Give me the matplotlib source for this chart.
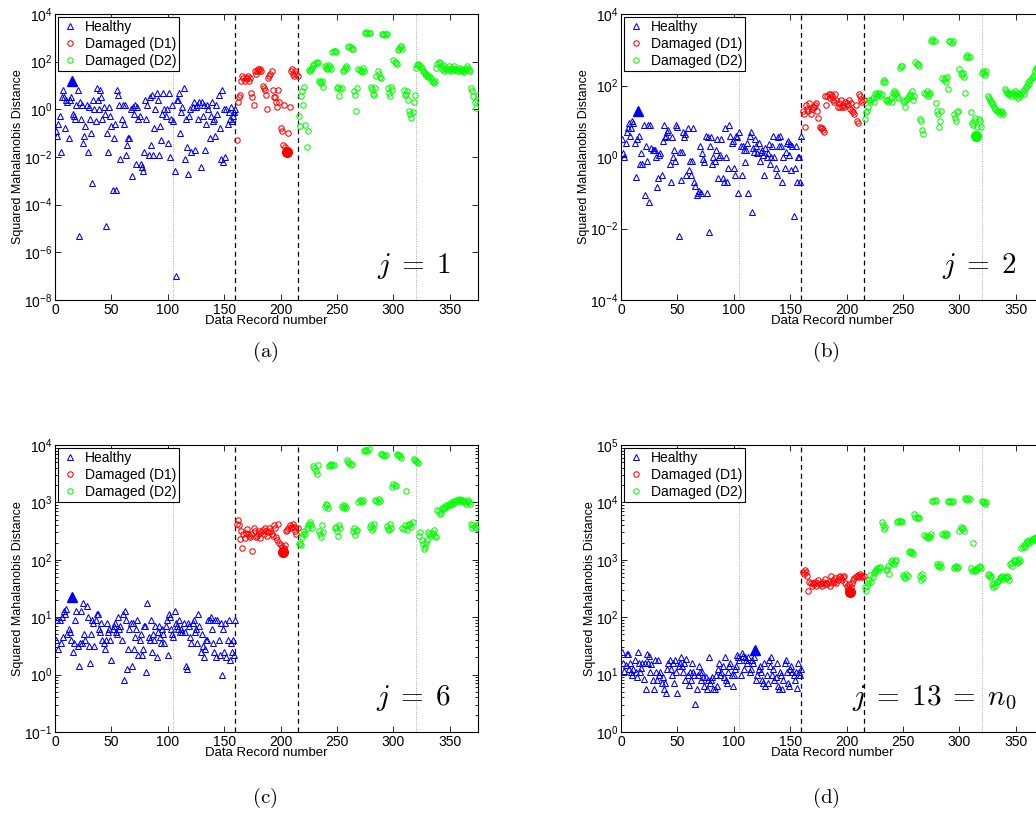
import numpy as np
import matplotlib
matplotlib.use("Agg")
import matplotlib.pyplot as plt
from matplotlib.ticker import FixedLocator, LogFormatterMathtext, LogLocator, NullLocator

plt.rcParams["font.family"] = ["Liberation Sans", "DejaVu Sans"]
plt.rcParams["mathtext.fontset"] = "cm"

# all values are log10 of the squared Mahalanobis distance
# record numbers: healthy 1-160, D1 161-215, D2 216-375

# ---- (a) j = 1
HEALTHY_A = [
    -0.9, -1.1, -0.6, -0.3, -1.8, 0.5, 0.8, 0.5, -0.8, 0.4,
    0.3, -1.2, 0.4, 0.5, 1.2, -0.2, -0.3, -0.4, 0.2, 0.8,
    -5.3, 0.3, -0.4, 0.2, -1.4, -1.1, -0.7, 0.2, -1.8, 0.1,
    -0.4, -1.0, -3.1, 0.4, 0.0, -0.5, 0.9, 0.4, 0.0, 0.8,
    0.5, -0.4, 0.1, -0.2, -4.9, -1.0, -1.8, 0.1, -0.3, -0.7,
    -3.4, -1.2, -0.6, -3.4, 0.8, 0.6, 0.2, -2.1, -0.4, 0.2,
    -0.6, 0.2, -1.9, -1.5, -1.2, -1.2, 0.0, -2.8, 0.1, -0.2,
    0.2, -2.3, 0.1, -0.4, -0.3, -2.3, -2.4, -2.6, -1.8, 0.4,
    -0.4, 0.2, -1.9, 0.5, -1.5, 0.6, -1.9, -0.8, 0.0, 0.7,
    0.4, -1.9, -0.7, -1.3, -0.2, 0.7, 0.0, -0.3, 0.0, -1.4,
    0.7, -2.0, -0.4, 0.2, -0.5, -2.6, -7.0, 0.4, 0.4, 0.7,
    -1.0, -0.1, 0.1, 0.9, -2.1, -0.4, -1.6, -2.7, -0.3, 0.0,
    -1.8, 0.1, 0.3, -1.7, 0.1, 0.2, -0.4, 0.3, -2.4, 0.3,
    -0.3, 0.2, -1.7, -0.6, 0.2, 0.0, -1.2, -0.3, 0.3, -0.5,
    -0.4, -1.1, 0.2, -0.2, 0.6, -0.8, -2.1, 0.8, -2.2, 0.0,
    -2.0, 0.0, -0.6, -0.1, -0.4, 0.1, -0.5, -0.3, -0.1, 0.0,
]
D1_A = [
    -1.3, 0.3, 0.5, 0.6, 1.2, 1.4, 1.3, 1.2, 1.3, 1.3,
    1.4, 1.2, 1.3, 0.7, 0.5, 0.2, 1.6, 1.5, 1.6, 1.7,
    1.6, 1.7, 1.6, 1.0, 0.9, 0.8, 0.6, 0.0, 1.3, 1.4,
    1.5, 1.6, 0.8, 0.5, 0.5, 0.3, 0.1, 0.8, 0.3, -0.8,
    -0.9, -1.5, 0.2, -1.6, -1.7, -1.8, -1.0, 0.1, 1.6, 1.7,
    1.5, 1.4, 1.6, 1.5, 1.4,
]
D2_A = [
    -0.3, -0.7, 0.55, 0.75, 0.2, 0.95, -0.65, -1.6, -0.9, 1.65,
    1.6, 1.7, 1.75, 1.85, 1.9, 1.95, 2.0, 1.95, 1.2, 1.15,
    1.1, 1.2, 0.95, 1.8, 1.75, 1.7, 1.85, 1.75, 1.8, 1.7,
    2.4, 2.45, 2.45, 2.4, 0.9, 0.95, 0.55, 0.85, 0.9, 1.6,
    1.65, 1.75, 1.8, 1.75, 2.6, 2.65, 2.6, 2.55, 2.55, 0.75,
    0.6, -0.05, 0.9, 1.7, 1.65, 1.6, 1.55, 1.75, 1.6, 3.2,
    3.25, 3.2, 3.2, 3.2, 0.95, 0.85, 0.65, 0.6, 0.9, 1.4,
    1.6, 1.5, 1.35, 1.3, 3.15, 3.15, 3.1, 3.15, 3.15, 0.9,
    0.7, 0.55, 0.95, 0.8, 2.05, 2.0, 1.95, 1.9, 2.5, 2.55,
    2.6, 2.65, 2.55, 0.8, 0.6, 0.65, 0.75, 0.4, -0.05, -0.2,
    -0.35, -0.1, 0.3, 0.6, 1.75, 1.85, 1.9, 1.85, 1.8, 1.75,
    1.6, 1.55, 1.5, 1.5, 1.4, 1.35, 1.4, 1.3, 1.2, 1.15,
    1.1, 1.2, 1.75, 1.9, 2.0, 1.95, 1.8, 1.7, 1.85, 1.6,
    1.7, 1.75, 1.65, 1.8, 1.7, 1.6, 1.75, 1.65, 1.8, 1.7,
    1.6, 1.65, 1.75, 1.6, 1.7, 1.65, 1.6, 1.55, 1.7, 1.8,
    1.75, 1.65, 1.6, 0.9, 0.75, 0.55, 0.3, 0.05, 0.4, 0.6,
]

# ---- (b) j = 2
HEALTHY_B = [
    0.5, 0.1, 0.0, 0.4, 0.7, 0.8, 0.95, 0.6, 0.8, 1.0,
    0.95, 0.4, -0.55, 0.5, 1.3, 0.6, -0.2, 0.1, -0.2, 0.9,
    -1.05, 0.3, -0.1, 0.9, -1.25, 0.9, 0.25, 0.2, 0.2, 0.2,
    0.0, -0.85, -0.6, 0.05, 0.1, -0.5, 0.45, 0.9, 0.55, 0.6,
    0.7, 0.75, -0.2, -0.7, 0.55, 0.0, 0.2, -0.1, 0.9, 0.85,
    -2.2, 0.15, -0.65, 0.15, 0.7, 0.55, 0.65, -0.5, 0.8, -0.35,
    -0.1, -0.5, -0.1, 0.8, -0.7, -0.8, -1.05, -1.0, -0.95, 0.3,
    -1.0, 0.1, -0.05, -0.15, 0.6, -1.0, 0.55, -2.1, 0.3, 0.55,
    -0.2, 0.0, -0.1, 0.2, 0.5, -0.6, 0.0, 0.05, 0.5, -0.6,
    -0.7, 0.8, 0.0, -0.7, -0.3, 0.9, 0.6, 0.4, 0.45, -0.3,
    -0.5, 0.6, 0.55, -1.0, 0.7, 0.3, -0.5, 0.3, 0.2, -0.15,
    0.2, 0.4, -1.0, 0.6, 0.7, -1.55, 0.25, 0.15, 0.5, 0.3,
    0.1, 0.4, -0.1, 0.15, 0.2, 0.05, -0.5, 0.25, 0.0, 0.1,
    0.35, -0.2, 0.0, 0.3, 0.6, 0.0, -0.3, -0.5, 0.55, 0.3,
    0.6, 0.3, -0.7, 0.0, -0.3, 0.15, 0.4, 0.45, 0.05, 0.35,
    -0.35, 0.3, -1.65, -0.3, 0.3, -0.7, 0.0, 0.0, -0.7, 0.6,
]
D1_B = [
    1.3, 1.2, 0.85, 1.45, 1.35, 1.3, 1.5, 1.2, 1.35, 1.4,
    1.4, 1.45, 1.5, 1.3, 1.1, 0.85, 0.8, 0.8, 0.75, 0.7,
    1.7, 1.45, 1.7, 1.75, 1.65, 1.75, 1.7, 1.6, 1.55, 1.75,
    1.6, 1.4, 1.5, 1.4, 1.6, 1.4, 1.45, 1.4, 1.55, 1.5,
    1.45, 1.6, 1.35, 1.5, 1.3, 1.25, 1.2, 1.45, 1.0, 0.95,
    1.75, 1.7, 1.6, 1.55, 1.6,
]
D2_B = [
    1.05, 1.25, 1.3, 1.4, 1.6, 1.55, 1.6, 1.65, 1.55, 1.75,
    1.8, 1.7, 1.75, 1.8, 1.7, 1.75, 2.1, 2.15, 2.1, 1.6,
    1.6, 1.55, 1.6, 1.65, 1.55, 1.8, 1.85, 1.75, 1.8, 1.7,
    1.65, 2.5, 2.55, 2.55, 1.6, 1.55, 1.4, 1.6, 1.65, 1.7,
    1.75, 1.7, 1.85, 1.6, 1.7, 2.65, 2.6, 2.6, 2.55, 1.05,
    1.0, 0.75, 0.65, 1.8, 1.75, 1.85, 1.7, 1.75, 1.8, 3.25,
    3.3, 3.25, 3.25, 1.5, 1.3, 1.2, 0.85, 1.0, 1.3, 2.2,
    2.15, 2.2, 2.1, 2.25, 1.9, 3.25, 3.25, 3.2, 3.25, 1.2,
    1.1, 1.0, 1.25, 1.3, 2.45, 2.35, 2.3, 2.35, 2.25, 1.8,
    2.8, 2.85, 2.8, 2.8, 1.25, 0.95, 0.9, 1.0, 1.1, 0.6,
    0.85, 1.05, 1.0, 0.85, 2.35, 2.4, 2.35, 2.3, 2.4, 1.7,
    1.65, 1.6, 1.55, 1.5, 1.45, 1.4, 1.35, 1.3, 1.3, 1.25,
    1.2, 1.3, 1.25, 1.2, 1.9, 1.85, 1.8, 1.75, 1.8, 1.75,
    1.7, 1.8, 1.75, 1.85, 1.7, 1.8, 1.65, 1.75, 1.7, 1.8,
    1.85, 1.75, 1.9, 1.95, 2.0, 2.1, 2.05, 2.15, 2.2, 2.25,
    2.3, 2.4, 2.5, 2.45, 2.55, 2.6, 2.5, 2.45, 2.55, 2.5,
]

# ---- (c) j = 6
HEALTHY_C = [
    0.6, 0.95, 0.45, 0.95, 0.55, 1.0, 0.65, 1.1, 1.05, 1.15,
    0.7, 0.8, 0.75, 0.6, 1.35, 0.4, 0.55, 0.95, 1.1, 0.5,
    0.15, 0.55, 1.1, 0.55, 1.25, 0.7, 0.6, 1.2, 1.0, 0.5,
    0.2, 0.7, 0.95, 0.9, 0.5, 0.95, 1.05, 1.05, 0.8, 0.75,
    0.9, 0.6, 0.55, 0.45, 0.6, 0.9, 0.75, 0.8, 0.6, 0.25,
    0.8, 0.85, 0.9, 0.75, 0.7, 1.0, 0.8, 0.85, 0.6, 1.05,
    -0.1, 1.1, 0.95, 0.1, 0.45, 0.8, 0.9, 0.15, 0.9, 0.45,
    0.65, 0.8, 0.95, 0.35, 0.6, 0.7, 0.35, 0.45, 0.85, 0.85,
    0.05, 1.25, 0.65, 0.6, 0.95, 0.4, 0.7, 0.6, 0.85, 0.3,
    0.75, 0.85, 0.65, 0.55, 0.8, 0.7, 0.55, 0.85, 0.95, 0.35,
    1.05, 1.0, 0.8, 0.7, 0.65, 1.1, 0.9, 0.85, 0.8, 0.95,
    0.75, 0.8, 0.75, 0.9, 0.75, 0.15, 0.1, 0.9, 0.85, 0.65,
    0.55, 0.9, 0.95, 0.75, 0.8, 0.55, 1.05, 0.85, 0.4, 0.7,
    0.5, 0.3, 0.45, 0.6, 0.6, 0.95, 0.95, 1.0, 0.8, 0.55,
    0.4, 0.95, 0.3, 0.95, 0.6, 0.35, 0.9, 0.0, 0.8, 0.4,
    0.9, 0.3, 0.6, 0.95, 0.25, 0.55, 0.4, 0.6, 0.35, 0.95,
]
D1_C = [
    2.63, 2.69, 2.6, 2.37, 2.5, 2.2, 2.45, 2.38, 2.47, 2.54,
    2.45, 2.42, 2.4, 2.45, 2.16, 2.55, 2.5, 2.4, 2.42, 2.45,
    2.5, 2.38, 2.48, 2.52, 2.45, 2.55, 2.5, 2.42, 2.48, 2.55,
    2.5, 2.45, 2.42, 2.6, 2.55, 2.4, 2.35, 2.63, 2.3, 2.25,
    2.22, 2.14, 2.2, 2.25, 2.5, 2.52, 2.55, 2.6, 2.55, 2.58,
    2.62, 2.58, 2.5, 2.45, 2.55,
]
D2_C = [
    2.28, 2.3, 2.25, 2.4, 2.45, 2.5, 2.45, 2.55, 2.6, 2.62,
    2.65, 2.6, 2.55, 3.63, 3.6, 3.55, 3.5, 3.65, 2.5, 2.45,
    2.4, 2.6, 2.48, 2.92, 2.98, 2.95, 2.9, 3.64, 3.66, 3.67,
    3.66, 3.65, 2.55, 2.58, 2.5, 2.41, 2.6, 2.55, 2.92, 2.95,
    2.9, 2.93, 2.9, 3.73, 3.7, 3.68, 3.66, 3.67, 2.5, 2.55,
    2.43, 2.5, 2.52, 3.0, 3.05, 3.02, 3.0, 3.04, 3.9, 3.92,
    3.91, 3.9, 3.93, 2.57, 2.6, 2.52, 2.56, 2.62, 3.05, 3.02,
    3.0, 3.06, 3.03, 3.85, 3.84, 3.82, 3.8, 3.83, 2.59, 2.53,
    2.52, 2.62, 2.55, 3.26, 3.32, 3.3, 3.28, 3.85, 3.83, 3.82,
    3.8, 3.78, 2.55, 2.53, 2.6, 3.19, 2.52, 2.6, 2.63, 2.62,
    2.58, 2.65, 3.75, 3.73, 3.72, 3.7, 3.68, 2.42, 2.48, 2.35,
    2.28, 2.18, 2.22, 2.3, 2.35, 2.48, 2.45, 2.42, 2.45, 2.46,
    2.52, 2.42, 2.4, 2.87, 2.85, 2.8, 2.82, 2.9, 2.88, 2.92,
    2.9, 2.95, 2.93, 2.97, 2.95, 2.98, 3.0, 2.98, 3.02, 3.0,
    3.05, 3.03, 3.06, 3.02, 3.05, 3.04, 3.0, 3.02, 2.98, 3.0,
    3.05, 3.0, 2.98, 2.62, 2.55, 2.6, 2.58, 2.55, 2.6, 2.62,
]

# ---- (d) j = 13 = n0
HEALTHY_D = [
    1.39, 1.2, 1.07, 1.17, 1.36, 1.36, 1.1, 1.2, 1.05, 1.0,
    1.1, 1.25, 1.05, 0.95, 1.39, 1.2, 1.05, 1.12, 1.2, 0.92,
    1.2, 0.75, 1.36, 1.2, 1.33, 1.05, 1.18, 0.9, 0.75, 1.25,
    1.05, 0.9, 1.25, 1.0, 1.05, 0.85, 0.95, 0.75, 0.85, 0.68,
    1.1, 1.2, 1.25, 1.1, 1.0, 1.2, 0.85, 1.25, 1.05, 0.68,
    1.15, 1.2, 1.3, 1.15, 1.05, 1.2, 0.9, 1.28, 1.0, 0.82,
    1.05, 0.9, 1.2, 1.05, 1.0, 0.49, 0.75, 1.0, 1.15, 1.05,
    0.9, 1.05, 0.95, 0.8, 0.95, 0.75, 0.9, 1.3, 0.85, 0.9,
    0.95, 0.75, 0.75, 1.0, 0.8, 1.1, 1.2, 1.0, 1.05, 1.15,
    0.95, 1.3, 0.9, 0.85, 1.05, 1.15, 1.2, 1.0, 0.8, 1.0,
    1.1, 1.15, 1.35, 1.3, 1.25, 1.0, 1.38, 1.32, 1.1, 1.3,
    1.25, 1.2, 1.3, 1.05, 1.1, 1.25, 1.2, 1.3, 1.43, 0.9,
    1.0, 1.1, 1.15, 1.05, 0.9, 0.85, 1.2, 0.8, 1.0, 0.85,
    1.25, 1.15, 1.3, 1.0, 1.1, 0.9, 0.95, 1.2, 0.8, 0.75,
    1.05, 1.0, 0.75, 0.9, 1.2, 1.25, 1.05, 0.85, 0.8, 1.1,
    1.15, 1.05, 1.0, 0.9, 1.05, 0.76, 1.2, 1.05, 1.0, 1.1,
]
D1_D = [
    2.79, 2.75, 2.82, 2.78, 2.72, 2.46, 2.62, 2.6, 2.55, 2.6,
    2.58, 2.62, 2.55, 2.6, 2.65, 2.58, 2.6, 2.55, 2.62, 2.58,
    2.67, 2.6, 2.58, 2.62, 2.55, 2.72, 2.6, 2.65, 2.62, 2.68,
    2.6, 2.65, 2.7, 2.72, 2.68, 2.65, 2.7, 2.72, 2.6, 2.55,
    2.5, 2.58, 2.44, 2.52, 2.6, 2.65, 2.68, 2.7, 2.72, 2.74,
    2.7, 2.75, 2.72, 2.7, 2.72,
]
D2_D = [
    2.53, 2.45, 2.55, 2.6, 2.65, 2.74, 2.62, 2.7, 2.77, 2.8,
    2.82, 2.85, 2.8, 2.85, 2.88, 3.66, 3.6, 3.53, 3.58, 2.83,
    2.84, 2.9, 2.75, 2.97, 3.0, 2.95, 2.92, 2.98, 3.0, 3.66,
    3.67, 3.68, 3.67, 3.66, 2.74, 2.7, 2.68, 2.75, 2.72, 3.13,
    3.15, 3.12, 3.14, 3.1, 3.79, 3.75, 3.72, 3.74, 3.72, 2.72,
    2.65, 2.75, 2.68, 3.44, 3.42, 3.4, 3.38, 3.42, 3.4, 3.45,
    4.02, 4.03, 4.04, 4.02, 2.92, 2.9, 2.9, 2.93, 2.88, 3.45,
    3.44, 3.46, 3.43, 3.45, 4.02, 4.01, 4.02, 4.0, 4.03, 2.85,
    2.87, 2.9, 2.86, 2.88, 3.51, 3.57, 3.54, 3.55, 3.5, 4.08,
    4.06, 4.05, 4.07, 4.06, 2.86, 2.8, 3.3, 2.82, 2.8, 2.82,
    2.86, 2.88, 2.9, 2.85, 4.02, 4.0, 4.0, 3.98, 4.0, 2.74,
    2.76, 2.7, 2.72, 2.57, 2.52, 2.6, 2.55, 2.62, 2.63, 2.65,
    2.68, 2.7, 2.72, 2.66, 2.7, 2.68, 2.72, 2.7, 2.65, 2.92,
    2.95, 2.9, 3.0, 2.98, 3.0, 2.95, 2.97, 3.02, 2.98, 3.2,
    3.23, 3.25, 3.22, 3.3, 3.33, 3.33, 3.3, 3.35, 3.33, 3.36,
    3.38, 3.35, 3.4, 3.38, 3.42, 3.4, 3.45, 3.42, 3.4, 3.45,
]

# highlighted (filled) records per panel: (group, record number)
MARKED_A = [("H", 15), ("D1", 206)]
MARKED_B = [("H", 15), ("D2", 315)]
MARKED_C = [("H", 15), ("D1", 202)]
MARKED_D = [("H", 119), ("D1", 203)]

# y range (powers of ten) and major tick step
YRANGE = {"a": (-8, 4, 2), "b": (-4, 4, 2), "c": (-1, 4, 1), "d": (0, 5, 1)}
J_LABELS = {"a": r"$j \;=\; 1$", "b": r"$j \;=\; 2$", "c": r"$j \;=\; 6$",
            "d": r"$j \;=\; 13 \;=\; n_0$"}

FIG_W, FIG_H = 1036, 826


def draw_panel(ax, key, healthy, d1, d2, marked):
    n_h, n_1, n_2 = len(healthy), len(d1), len(d2)
    x_h = np.arange(1, n_h + 1)
    x_1 = np.arange(n_h + 1, n_h + n_1 + 1)
    x_2 = np.arange(n_h + n_1 + 1, n_h + n_1 + n_2 + 1)
    groups = {
        "H": (x_h, 10.0 ** np.array(healthy), "^", (0, 0, 1)),
        "D1": (x_1, 10.0 ** np.array(d1), "o", (1, 0, 0)),
        "D2": (x_2, 10.0 ** np.array(d2), "o", (0, 1, 0)),
    }
    labels = {"H": "Healthy", "D1": "Damaged (D1)", "D2": "Damaged (D2)"}

    ax.set_yscale("log")
    for g, (x, y, m, c) in groups.items():
        ms = 4.4 if m == "^" else 3.9
        ax.plot(x, y, ls="none", marker=m, mfc="none", mec=c, ms=ms, mew=0.75,
                label=labels[g], zorder=3)

    for g, rec in marked:
        x, y, m, c = groups[g]
        i = int(np.where(x == rec)[0][0])
        ax.plot(x[i], y[i], ls="none", marker=m, mfc=c, mec=c, ms=7, zorder=4)

    lo, hi, step = YRANGE[key]
    ax.set_xlim(0, 375)
    ax.set_ylim(10.0 ** lo, 10.0 ** hi)

    # separators between classes and sub-periods
    ax.axvline(160, color="k", ls=(0, (4, 3)), lw=0.9, zorder=2)
    ax.axvline(215, color="k", ls=(0, (4, 3)), lw=0.9, zorder=2)
    ax.axvline(105, color="0.65", ls=(0, (1, 1.5)), lw=0.7, zorder=1)
    ax.axvline(320, color="0.65", ls=(0, (1, 1.5)), lw=0.7, zorder=1)

    ax.set_xticks(np.arange(0, 351, 50))
    ax.yaxis.set_major_locator(FixedLocator([10.0 ** e for e in range(lo, hi + 1, step)]))
    ax.yaxis.set_major_formatter(LogFormatterMathtext())
    if step == 1:
        ax.yaxis.set_minor_locator(LogLocator(base=10, subs=np.arange(2, 10), numticks=20))
    else:
        ax.yaxis.set_minor_locator(NullLocator())

    ax.tick_params(which="both", direction="in", top=True, right=True, labelsize=10,
                   width=0.6, pad=2)
    ax.tick_params(which="major", length=4)
    ax.tick_params(which="minor", length=2)
    for s in ax.spines.values():
        s.set_linewidth(0.8)

    ax.set_xlabel("Data Record number", fontsize=9.5, labelpad=-1)
    ax.set_ylabel("Squared Mahalanobis Distance", fontsize=9, labelpad=0)

    leg = ax.legend(loc="upper left", fontsize=10, fancybox=False, edgecolor="k",
                    framealpha=1, handlelength=1.2, handletextpad=0.5,
                    borderpad=0.2, labelspacing=0.2, borderaxespad=0.25)
    leg.get_frame().set_linewidth(0.8)

    ax.text(0.935, 0.12, J_LABELS[key], transform=ax.transAxes, ha="right",
            va="center", fontsize=21)


def main():
    fig = plt.figure(figsize=(FIG_W / 100, FIG_H / 100), dpi=100)

    w = 423 / FIG_W
    boxes = {
        "a": (55 / FIG_W, 1 - 300 / FIG_H, w, 286 / FIG_H),
        "b": (621 / FIG_W, 1 - 300 / FIG_H, w, 286 / FIG_H),
        "c": (55 / FIG_W, 1 - 732 / FIG_H, w, 287 / FIG_H),
        "d": (621 / FIG_W, 1 - 732 / FIG_H, w, 287 / FIG_H),
    }
    data = {
        "a": (HEALTHY_A, D1_A, D2_A, MARKED_A),
        "b": (HEALTHY_B, D1_B, D2_B, MARKED_B),
        "c": (HEALTHY_C, D1_C, D2_C, MARKED_C),
        "d": (HEALTHY_D, D1_D, D2_D, MARKED_D),
    }
    for key in "abcd":
        ax = fig.add_axes(boxes[key])
        h, d1, d2, marked = data[key]
        draw_panel(ax, key, h, d1, d2, marked)

    # sub-figure captions
    captions = {"a": (265, 352), "b": (826, 352), "c": (265, 798), "d": (826, 798)}
    for key, (px, py) in captions.items():
        fig.text(px / FIG_W, 1 - py / FIG_H, r"$\mathrm{(%s)}$" % key,
                 ha="center", va="center", fontsize=15)

    fig.savefig("out.png", dpi=100)
    plt.close(fig)


if __name__ == "__main__":
    main()
